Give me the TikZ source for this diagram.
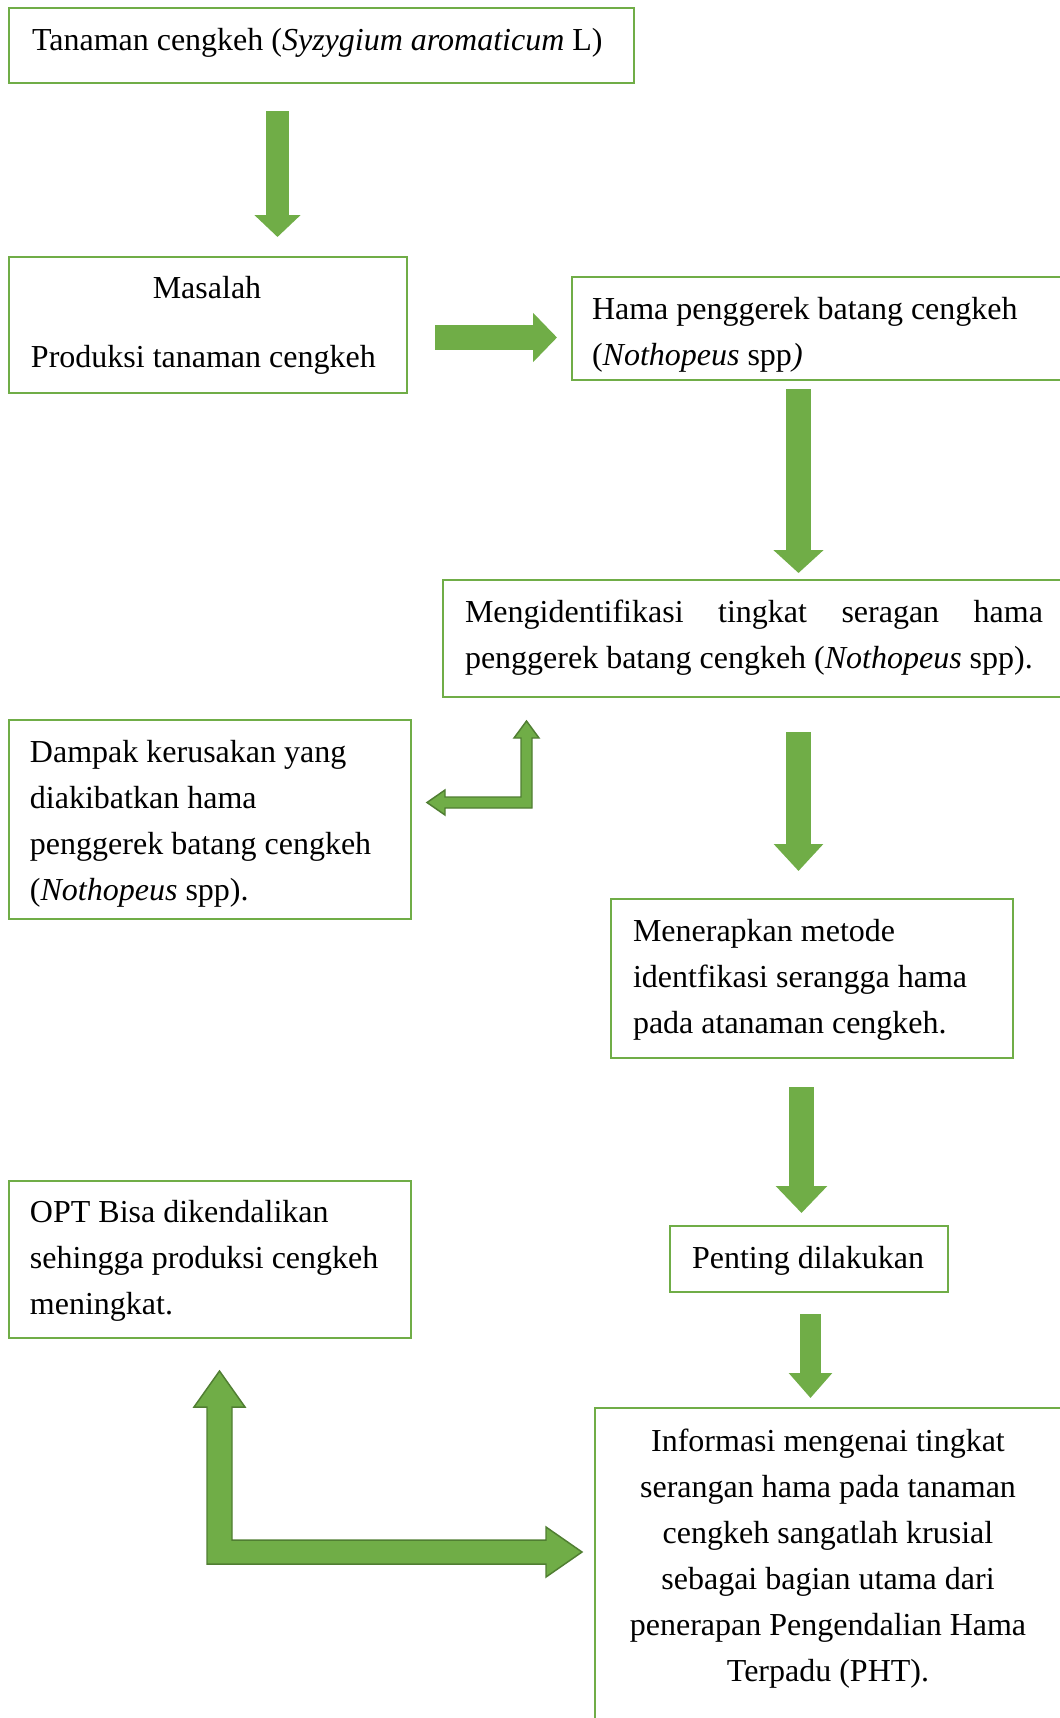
\documentclass[tikz,border=0pt]{standalone}
\usepackage{fontspec}
\setmainfont{Liberation Serif}
\usetikzlibrary{arrows.meta,fit}
\definecolor{boxgreen}{RGB}{112,173,71}
\definecolor{arrgreen}{RGB}{112,173,71}
\definecolor{arrdark}{RGB}{80,126,50}
\tikzset{
  box/.style={draw=boxgreen, line width=1.9pt, inner sep=0pt, outer sep=0pt, rectangle},
  txt/.style={inner sep=0pt, outer sep=0pt, font=\fontsize{24pt}{34.5pt}\selectfont},
  blockarrow/.style={draw=arrgreen, fill=arrgreen, line width=#1},
  bentarrow/.style={fill=arrgreen, draw=arrdark, line width=1.1pt, line join=miter}
}
\begin{document}
\begin{tikzpicture}[x=0.75pt,y=-0.75pt]
\useasboundingbox (0,0) rectangle (1060,1718);
\clip (0,0) rectangle (1060,1718);

% boxes
\node[box, fit={(9,8) (634,83)}] (b1) {};
\node[box, fit={(9,257) (407,393)}] (b2) {};
\node[box, fit={(572,277) (1075,380)}] (b3) {};
\node[box, fit={(443,580) (1075,697)}] (b4) {};
\node[box, fit={(9,720) (411,919)}] (b5) {};
\node[box, fit={(611,899) (1013,1058)}] (b6) {};
\node[box, fit={(9,1181) (411,1338)}] (b7) {};
\node[box, fit={(670,1226) (948,1292)}] (b8) {};
\node[box, fit={(595,1408) (1075,1730)}] (b9) {};

% texts
\node[txt, anchor=base west] (t1) at (32,50) {Tanaman cengkeh (\textit{Syzygium aromaticum} L)};
\node[txt, anchor=base] (t2a) at (207,298) {Masalah};
\node[txt, anchor=base west] (t2b) at (31,367) {Produksi tanaman cengkeh};
\node[txt, anchor=base west] (t3) at (592,319) {\parbox[t]{420pt}{Hama penggerek batang cengkeh\\(\textit{Nothopeus} spp\textit{)}}};
\node[txt, anchor=base west] (t4) at (465,622) {\parbox[t]{433.5pt}{Mengidentifikasi\hfill tingkat\hfill seragan\hfill hama\\penggerek batang cengkeh (\textit{Nothopeus} spp).}};
\node[txt, anchor=base west] (t5) at (30,762) {\parbox[t]{290pt}{Dampak kerusakan yang\\diakibatkan hama\\penggerek batang cengkeh\\(\textit{Nothopeus} spp).}};
\node[txt, anchor=base west] (t6) at (633,941) {\parbox[t]{290pt}{Menerapkan metode\\identfikasi serangga hama\\pada atanaman cengkeh.}};
\node[txt, anchor=base west] (t7) at (30,1222) {\parbox[t]{290pt}{OPT Bisa dikendalikan\\sehingga produksi cengkeh\\meningkat.}};
\node[txt, anchor=base west] (t8) at (692,1268) {Penting dilakukan};
\node[txt, anchor=base] (t9) at (828,1451) {\parbox[t]{330pt}{\centering Informasi mengenai tingkat\\serangan hama pada tanaman\\cengkeh sangatlah krusial\\sebagai bagian utama dari\\penerapan Pengendalian Hama\\Terpadu (PHT).}};

% straight block arrows
\coordinate (a1s) at (277.5,111);  \coordinate (a1e) at (277.5,237);
\coordinate (a2s) at (435,337.5);  \coordinate (a2e) at (557,337.5);
\coordinate (a3s) at (798.5,389);  \coordinate (a3e) at (798.5,573);
\coordinate (a4s) at (798.5,732);  \coordinate (a4e) at (798.5,871);
\coordinate (a5s) at (801.5,1087); \coordinate (a5e) at (801.5,1213);
\coordinate (a6s) at (810.5,1314); \coordinate (a6e) at (810.5,1398);

\draw[blockarrow=17.25pt, -{Triangle[width=33.75pt,length=16.5pt]}] (a1s) -- (a1e);
\draw[blockarrow=18.75pt, -{Triangle[width=36pt,length=18pt]}] (a2s) -- (a2e);
\draw[blockarrow=18.75pt, -{Triangle[width=36.75pt,length=17.25pt]}] (a3s) -- (a3e);
\draw[blockarrow=18.75pt, -{Triangle[width=36pt,length=20.25pt]}] (a4s) -- (a4e);
\draw[blockarrow=18.75pt, -{Triangle[width=37.5pt,length=20.25pt]}] (a5s) -- (a5e);
\draw[blockarrow=15.75pt, -{Triangle[width=31.5pt,length=18.75pt]}] (a6s) -- (a6e);

% bent arrow: from b4 area to b5
\coordinate (s1tip) at (526.5,721);
\coordinate (s1end) at (427,802.5);
\draw[bentarrow] (s1tip) -- (539,738) -- (532,738) -- (532,808) -- (445,808) -- (445,815)
  -- (s1end) -- (445,790) -- (445,797) -- (521,797) -- (521,738) -- (514,738) -- cycle;

% big L arrow between b7 and b9
\coordinate (s2tip) at (219.5,1371);
\coordinate (s2end) at (582,1552);
\draw[bentarrow] (s2tip) -- (245,1407) -- (232,1407) -- (232,1540) -- (546,1540) -- (546,1527)
  -- (s2end) -- (546,1577) -- (546,1564) -- (207,1564) -- (207,1407) -- (194,1407) -- cycle;
\end{tikzpicture}
\end{document}
